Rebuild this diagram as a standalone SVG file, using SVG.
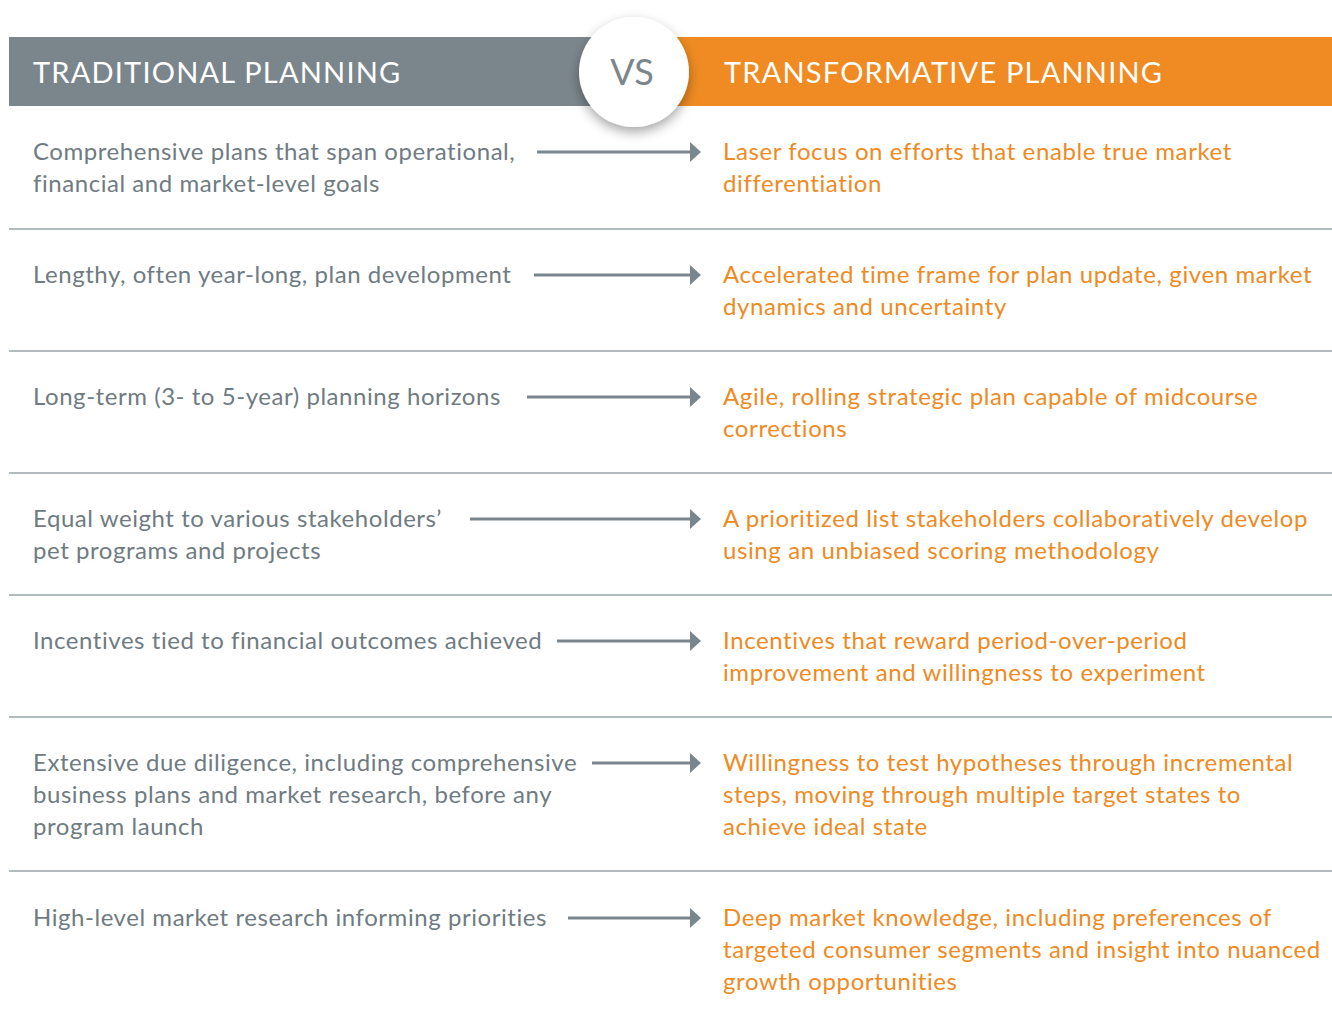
<svg xmlns="http://www.w3.org/2000/svg" width="1332" height="1019" viewBox="0 0 1332 1019">
<defs>
<style>
text{font-variant-ligatures:none}
.hdr{font-family:Lato,"Open Sans","Liberation Sans",sans-serif;font-size:29px;fill:#ffffff;letter-spacing:1.2px}
.l{font-family:Lato,"Open Sans","Liberation Sans",sans-serif;font-size:24px;fill:#6f7b82;letter-spacing:0.55px}
.r{font-family:Lato,"Open Sans","Liberation Sans",sans-serif;font-size:24px;fill:#ef8a23;letter-spacing:0.6px}
.sep{stroke:#9aa3a9;stroke-width:1.5}
.arr{stroke:#7a868d;stroke-width:3;fill:none}
.head{fill:#7a868d}
</style>
<filter id="sh" x="-40%" y="-40%" width="180%" height="190%">
<feDropShadow dx="0" dy="5" stdDeviation="6" flood-color="#000" flood-opacity="0.35"/>
</filter>
</defs>
<rect width="1332" height="1019" fill="#ffffff"/>
<g id="header">
<rect x="9" y="37" width="627" height="69" fill="#7b868c"/>
<rect x="634" y="37" width="698" height="69" fill="#ef8b22"/>
<text class="hdr" x="33" y="83">TRADITIONAL PLANNING</text>
<text class="hdr" x="724" y="83">TRANSFORMATIVE PLANNING</text>
</g>
<g id="vs">
<circle cx="634" cy="72" r="55" fill="#ffffff" filter="url(#sh)"/>
<text x="632" y="85" text-anchor="middle" style="font-family:Lato,'Open Sans',sans-serif;font-size:36px;fill:#7b868c">VS</text>
</g>
<g id="separators">
<line class="sep" x1="9" y1="229" x2="1332" y2="229"/>
<line class="sep" x1="9" y1="351" x2="1332" y2="351"/>
<line class="sep" x1="9" y1="473" x2="1332" y2="473"/>
<line class="sep" x1="9" y1="595" x2="1332" y2="595"/>
<line class="sep" x1="9" y1="717" x2="1332" y2="717"/>
<line class="sep" x1="9" y1="871" x2="1332" y2="871"/>
</g>
<g id="connectors">
<line class="arr" x1="537" y1="152" x2="691" y2="152"/><path class="head" d="M690 142 L701 152 L690 162 Z"/>
<line class="arr" x1="534" y1="275" x2="691" y2="275"/><path class="head" d="M690 265 L701 275 L690 285 Z"/>
<line class="arr" x1="527" y1="397" x2="691" y2="397"/><path class="head" d="M690 387 L701 397 L690 407 Z"/>
<line class="arr" x1="470" y1="519" x2="691" y2="519"/><path class="head" d="M690 509 L701 519 L690 529 Z"/>
<line class="arr" x1="557" y1="641" x2="691" y2="641"/><path class="head" d="M690 631 L701 641 L690 651 Z"/>
<line class="arr" x1="592" y1="763" x2="691" y2="763"/><path class="head" d="M690 753 L701 763 L690 773 Z"/>
<line class="arr" x1="568" y1="918" x2="691" y2="918"/><path class="head" d="M690 908 L701 918 L690 928 Z"/>
</g>
<g id="row1">
<text class="l" x="33" y="160">Comprehensive plans that span operational,</text>
<text class="l" x="33" y="192">financial and market-level goals</text>
<text class="r" x="723" y="160">Laser focus on efforts that enable true market</text>
<text class="r" x="723" y="192">differentiation</text>
</g>
<g id="row2">
<text class="l" x="33" y="283">Lengthy, often year-long, plan development</text>
<text class="r" x="723" y="283">Accelerated time frame for plan update, given market</text>
<text class="r" x="723" y="315">dynamics and uncertainty</text>
</g>
<g id="row3">
<text class="l" x="33" y="405">Long-term (3- to 5-year) planning horizons</text>
<text class="r" x="723" y="405">Agile, rolling strategic plan capable of midcourse</text>
<text class="r" x="723" y="437">corrections</text>
</g>
<g id="row4">
<text class="l" x="33" y="527">Equal weight to various stakeholders’</text>
<text class="l" x="33" y="559">pet programs and projects</text>
<text class="r" x="723" y="527">A prioritized list stakeholders collaboratively develop</text>
<text class="r" x="723" y="559">using an unbiased scoring methodology</text>
</g>
<g id="row5">
<text class="l" x="33" y="649">Incentives tied to financial outcomes achieved</text>
<text class="r" x="723" y="649">Incentives that reward period-over-period</text>
<text class="r" x="723" y="681">improvement and willingness to experiment</text>
</g>
<g id="row6">
<text class="l" x="33" y="771">Extensive due diligence, including comprehensive</text>
<text class="l" x="33" y="803">business plans and market research, before any</text>
<text class="l" x="33" y="835">program launch</text>
<text class="r" x="723" y="771">Willingness to test hypotheses through incremental</text>
<text class="r" x="723" y="803">steps, moving through multiple target states to</text>
<text class="r" x="723" y="835">achieve ideal state</text>
</g>
<g id="row7">
<text class="l" x="33" y="926">High-level market research informing priorities</text>
<text class="r" x="723" y="926">Deep market knowledge, including preferences of</text>
<text class="r" x="723" y="958">targeted consumer segments and insight into nuanced</text>
<text class="r" x="723" y="990">growth opportunities</text>
</g>
</svg>
